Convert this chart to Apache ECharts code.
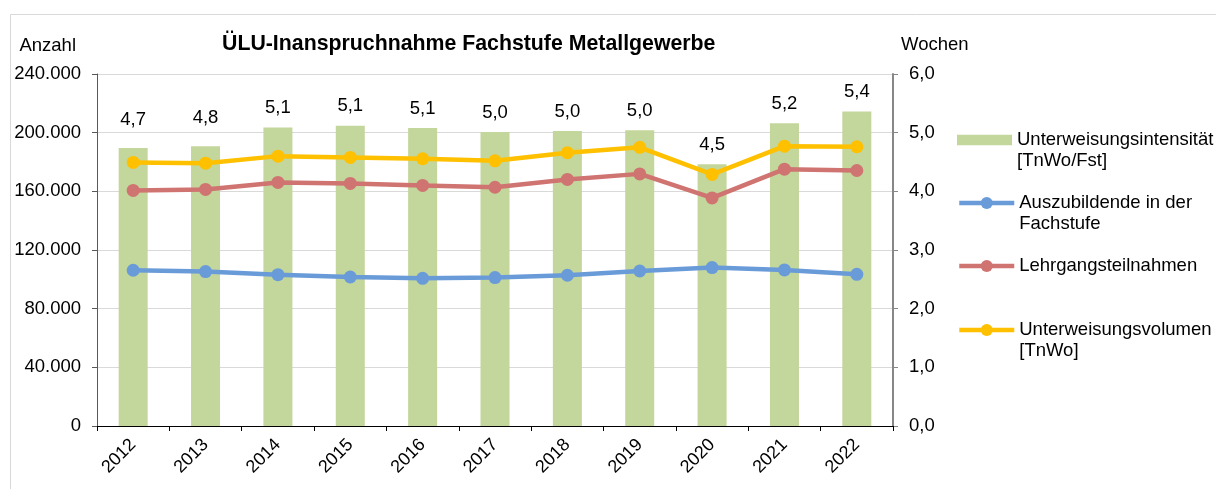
<!DOCTYPE html>
<html>
<head>
<meta charset="utf-8">
<script src="https://cdn.jsdelivr.net/npm/echarts@6/dist/echarts.min.js"></script>
<style>
html,body{margin:0;padding:0;background:#fff;}
#c{width:1216px;height:489px;}
</style>
</head>
<body>
<div id="c"></div>
<script>
const years = ['2012','2013','2014','2015','2016','2017','2018','2019','2020','2021','2022'];
const intensitaet = [4.74, 4.77, 5.09, 5.12, 5.08, 5.01, 5.03, 5.04, 4.46, 5.16, 5.36];
const auszubildende = [106200, 105300, 103200, 101600, 100700, 101200, 102800, 105700, 108000, 106400, 103400];
const lehrgang = [160600, 161300, 166100, 165400, 164000, 162800, 168100, 171900, 155500, 175100, 174200];
const volumen = [179700, 179200, 184000, 183100, 182200, 180800, 186300, 190000, 171500, 190800, 190400];
const leftTicks = [0, 40000, 80000, 120000, 160000, 200000, 240000];
const rightTicks = [0, 1, 2, 3, 4, 5, 6];

const FONT = 'Liberation Sans, Arial, sans-serif';
const FS = 18.5;
const deInt = v => String(Math.round(v)).replace(/\B(?=(\d{3})+(?!\d))/g, '.');
const deDec = v => Number(v).toFixed(1).replace('.', ',');

const chart = echarts.init(document.getElementById('c'), null, {renderer: 'canvas'});

const barData = intensitaet.map((v, i) => ({
  value: v,
  label: {distance: (i < 2 ? 19 : 10)}
}));

const legendText = {
  'Unterweisungsintensität [TnWo/Fst]': '\nUnterweisungsintensität\n[TnWo/Fst]',
  'Auszubildende in der Fachstufe': '\nAuszubildende in der\nFachstufe',
  'Lehrgangsteilnahmen': 'Lehrgangsteilnahmen',
  'Unterweisungsvolumen [TnWo]': '\nUnterweisungsvolumen\n[TnWo]'
};

const option = {
  animation: false,
  backgroundColor: '#ffffff',
  textStyle: {fontFamily: FONT},
  graphic: [{
    type: 'rect', z: -10,
    shape: {x: 10.5, y: 14.5, width: 1300, height: 600},
    style: {fill: 'none', stroke: '#d9d9d9', lineWidth: 1}
  }],
  title: {
    text: 'ÜLU-Inanspruchnahme Fachstufe Metallgewerbe',
    left: 217, top: 29,
    textStyle: {fontFamily: FONT, fontSize: 21.3, fontWeight: 'bold', color: '#000'}
  },
  legend: [
    {name: 'Unterweisungsintensität [TnWo/Fst]', top: 108.5, icon: 'path://M0,0h52v10h-52z'},
    {name: 'Auszubildende in der Fachstufe', top: 171.5},
    {name: 'Lehrgangsteilnahmen', top: 255.5},
    {name: 'Unterweisungsvolumen [TnWo]', top: 298.5}
  ].map(it => ({
    orient: 'vertical',
    left: 957, top: it.top,
    padding: 0,
    itemWidth: 55, itemHeight: 15,
    selectedMode: false,
    lineStyle: {width: 4.5},
    textStyle: {fontFamily: FONT, fontSize: FS, color: '#000', lineHeight: 21},
    formatter: name => legendText[name] || name,
    data: [it.icon ? {name: it.name, icon: it.icon} : {name: it.name}]
  })),
  grid: {left: 97, right: 323, top: 74, bottom: 63, containLabel: false},
  xAxis: {
    type: 'category',
    data: years,
    boundaryGap: true,
    axisLine: {lineStyle: {color: '#000', width: 1}},
    axisTick: {show: true, length: 5, lineStyle: {color: '#000'}},
    axisLabel: {rotate: 45, margin: 16, fontFamily: FONT, fontSize: 18, color: '#000'},
    splitLine: {show: false}
  },
  yAxis: [{
    type: 'value',
    min: leftTicks[0], max: leftTicks[leftTicks.length - 1], interval: leftTicks[1] - leftTicks[0],
    name: 'Anzahl',
    nameLocation: 'end',
    nameGap: 28,
    nameTextStyle: {fontFamily: FONT, fontSize: FS, color: '#000', align: 'right', verticalAlign: 'middle', padding: [0, 21, 0, 0]},
    axisLine: {show: true, lineStyle: {color: '#595959', width: 1}},
    axisTick: {show: true, length: 5, lineStyle: {color: '#595959'}},
    axisLabel: {margin: 16, fontFamily: FONT, fontSize: FS, color: '#000', formatter: deInt},
    splitLine: {show: true, lineStyle: {color: '#d9d9d9', width: 1}}
  }, {
    type: 'value',
    position: 'right',
    min: rightTicks[0], max: rightTicks[rightTicks.length - 1], interval: rightTicks[1] - rightTicks[0],
    name: 'Wochen',
    nameLocation: 'end',
    nameGap: 29,
    nameTextStyle: {fontFamily: FONT, fontSize: FS, color: '#000', align: 'left', verticalAlign: 'middle', padding: [0, 0, 0, 8]},
    axisLine: {show: true, lineStyle: {color: '#878787', width: 2}},
    axisTick: {show: true, length: 5, lineStyle: {color: '#878787', width: 1}},
    axisLabel: {margin: 16, fontFamily: FONT, fontSize: FS, color: '#000', formatter: deDec},
    splitLine: {show: false}
  }],
  series: [{
    name: 'Unterweisungsintensität [TnWo/Fst]',
    type: 'bar',
    yAxisIndex: 1,
    barWidth: 29,
    data: barData,
    itemStyle: {color: '#c3d69b'},
    label: {show: true, position: 'top', fontFamily: FONT, fontSize: FS, color: '#000',
      formatter: p => deDec(p.value)},
    z: 1
  }, {
    name: 'Auszubildende in der Fachstufe',
    type: 'line',
    data: auszubildende,
    symbol: 'circle', symbolSize: 13,
    lineStyle: {color: '#6a9bd9', width: 4.5},
    itemStyle: {color: '#6a9bd9'},
    z: 3
  }, {
    name: 'Lehrgangsteilnahmen',
    type: 'line',
    data: lehrgang,
    symbol: 'circle', symbolSize: 13,
    lineStyle: {color: '#cf7471', width: 4.5},
    itemStyle: {color: '#cf7471'},
    z: 3
  }, {
    name: 'Unterweisungsvolumen [TnWo]',
    type: 'line',
    data: volumen,
    symbol: 'circle', symbolSize: 13,
    lineStyle: {color: '#ffc000', width: 4.5},
    itemStyle: {color: '#ffc000'},
    z: 3
  }]
};
chart.setOption(option);
</script>
</body>
</html>
